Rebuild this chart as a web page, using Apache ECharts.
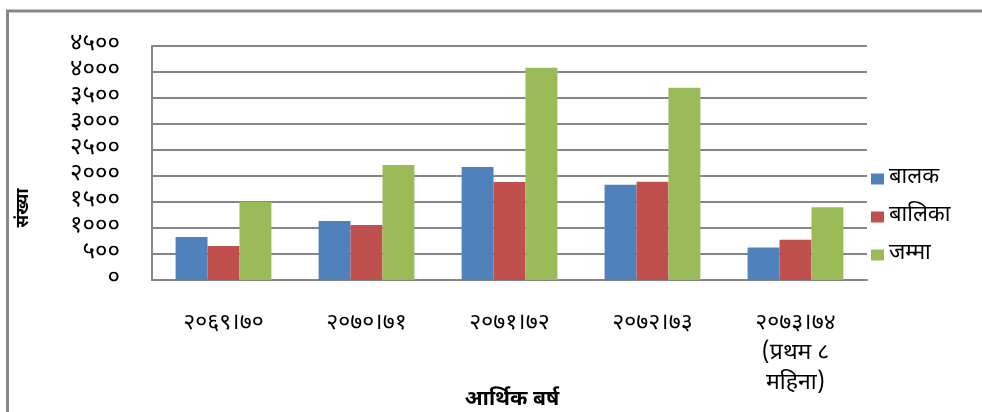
<!DOCTYPE html>
<html>
<head>
<meta charset="utf-8">
<script src="https://cdn.jsdelivr.net/npm/echarts@6/dist/echarts.min.js"></script>
<style>
html,body{margin:0;padding:0;background:#fff;}
#chart{width:982px;height:412px;}
</style>
</head>
<body>
<div id="chart"></div>
<script>
const categories = ['२०६९।७०', '२०७०।७१', '२०७१।७२', '२०७२।७३', '२०७३।७४\n(प्रथम ८\nमहिना)'];
const seriesNames = ['बालक', 'बालिका', 'जम्मा'];
const boys = [827, 1135, 2175, 1833, 625];
const girls = [654, 1058, 1885, 1890, 774];
const total = [1500, 2212, 4083, 3698, 1398];
const yTickLabels = ['०', '५००', '१०००', '१५००', '२०००', '२५००', '३०००', '३५००', '४०००', '४५००'];
const xAxisTitle = 'आर्थिक बर्ष';
const yAxisTitle = 'संख्या';

const FONT = '"Noto Sans Devanagari", "Lohit Devanagari", FreeSans, "Noto Sans", sans-serif';
const colors = ['#4F81BD', '#C0504D', '#9BBB59'];
const chart = echarts.init(document.getElementById('chart'));
chart.setOption({
  animation: false,
  color: colors,
  textStyle: {fontFamily: FONT},
  grid: {left: 152, right: 115, top: 46, bottom: 132, containLabel: false},
  legend: {
    orient: 'vertical', left: 866, top: 163, itemGap: 16,
    itemWidth: 13, itemHeight: 11, icon: 'rect', itemStyle: {borderWidth: 0},
    textStyle: {fontFamily: FONT, fontSize: 22, color: '#000'},
    data: seriesNames
  },
  xAxis: {
    type: 'category', data: categories,
    axisLine: {lineStyle: {color: '#868686', width: 2}},
    axisTick: {show: false},
    axisLabel: {fontFamily: FONT, fontSize: 23, color: '#000', margin: 30, lineHeight: 30, interval: 0}
  },
  yAxis: {
    type: 'value', min: 0, max: 4500, interval: 500,
    axisLine: {show: true, lineStyle: {color: '#868686', width: 2}},
    axisTick: {show: false},
    splitLine: {lineStyle: {color: '#868686', width: 2}},
    axisLabel: {fontFamily: FONT, fontSize: 24, color: '#000', margin: 32,
      formatter: function (v) { return yTickLabels[Math.round(v / 500)]; }}
  },
  series: [
    {name: seriesNames[0], type: 'bar', data: boys, barGap: '0%', barCategoryGap: '33%'},
    {name: seriesNames[1], type: 'bar', data: girls, barGap: '0%', barCategoryGap: '33%'},
    {name: seriesNames[2], type: 'bar', data: total, barGap: '0%', barCategoryGap: '33%'}
  ],
  graphic: [
    {type: 'rect', shape: {x: 7.5, y: 11, width: 1200, height: 600}, style: {fill: 'none', stroke: '#888', lineWidth: 3}, z: -1},
    {type: 'text', x: 25, y: 208, rotation: Math.PI / 2,
      style: {text: yAxisTitle, font: 'bold 17px ' + FONT, fill: '#000', textAlign: 'center', textVerticalAlign: 'middle'}},
    {type: 'text', x: 512, y: 401,
      style: {text: xAxisTitle, font: 'bold 21px ' + FONT, fill: '#000', textAlign: 'center', textVerticalAlign: 'middle'}}
  ]
});
</script>
</body>
</html>
